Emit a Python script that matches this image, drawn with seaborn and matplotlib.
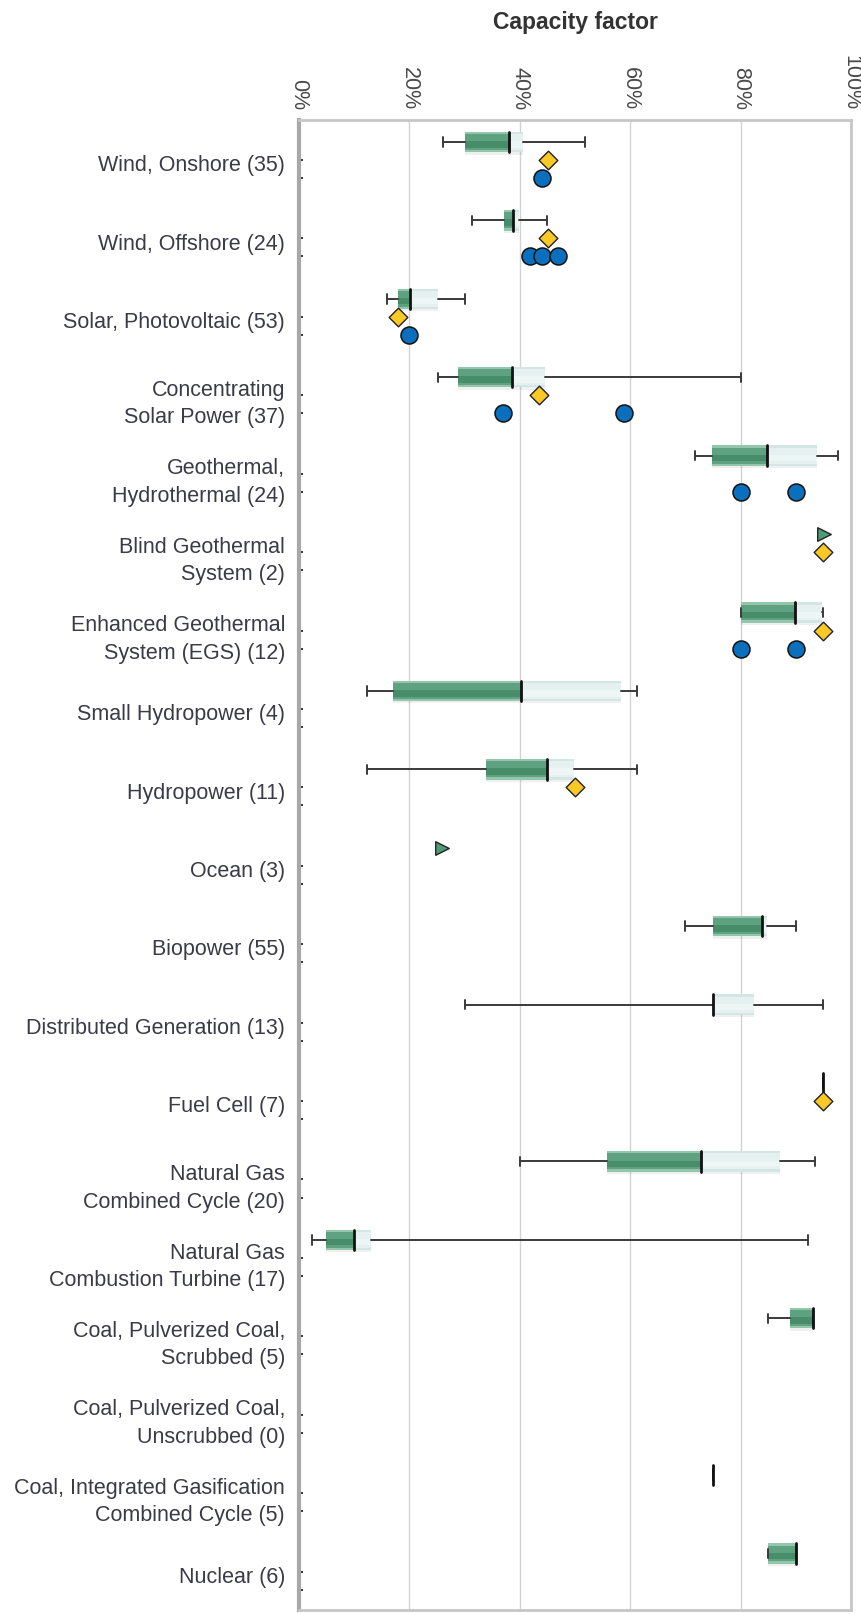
import numpy as np
import pandas as pd
import matplotlib
matplotlib.use("Agg")
import matplotlib.pyplot as plt
import seaborn as sns

nan = np.nan

categories = [
    "Wind, Onshore (35)",
    "Wind, Offshore (24)",
    "Solar, Photovoltaic (53)",
    "Concentrating\nSolar Power (37)",
    "Geothermal,\nHydrothermal (24)",
    "Blind Geothermal\nSystem (2)",
    "Enhanced Geothermal\nSystem (EGS) (12)",
    "Small Hydropower (4)",
    "Hydropower (11)",
    "Ocean (3)",
    "Biopower (55)",
    "Distributed Generation (13)",
    "Fuel Cell (7)",
    "Natural Gas\nCombined Cycle (20)",
    "Natural Gas\nCombustion Turbine (17)",
    "Coal, Pulverized Coal,\nScrubbed (5)",
    "Coal, Pulverized Coal,\nUnscrubbed (0)",
    "Coal, Integrated Gasification\nCombined Cycle (5)",
    "Nuclear (6)",
]

box_min = [26.1, 31.4, 16.0, 25.1, 71.7, nan, 80.0, 12.3, 12.3, nan, 69.9, 30.0, 95.0, 40.1, 2.4, 85.0, nan, 75.0, 85.0]
box_q1 = [30.1, 37.2, 18.0, 28.8, 74.9, nan, 80.0, 17.1, 33.9, nan, 75.0, 75.0, 95.0, 55.8, 4.9, 88.9, nan, 75.0, 85.0]
box_med = [38.0, 38.8, 20.1, 38.6, 84.7, nan, 89.8, 40.2, 44.9, nan, 83.9, 75.0, 95.0, 72.8, 9.9, 93.1, nan, 75.0, 90.0]
box_q3 = [40.6, 39.9, 25.1, 44.6, 93.8, nan, 94.7, 58.3, 49.8, nan, 84.8, 82.5, 95.0, 87.2, 13.0, 93.1, nan, 75.0, 90.0]
box_max = [51.8, 44.9, 30.0, 80.0, 97.6, nan, 95.0, 61.2, 61.2, nan, 90.0, 95.0, 95.0, 93.5, 92.2, 93.1, nan, 75.0, 90.0]

diamond_vals = [45.1, 45.1, 18.0, 43.4, nan, 95.0, 95.0, nan, 50.0, nan, nan, nan, 95.0, nan, nan, nan, nan, nan, nan]

circle_cats = [0, 1, 1, 1, 2, 3, 3, 4, 4, 6, 6]
circle_vals = [44.0, 41.8, 44.1, 47.0, 20.0, 37.0, 58.9, 80.0, 90.0, 80.0, 90.0]

triangle_cats = [5, 9]
triangle_vals = [95.1, 25.9]

x_ticks = [0, 20, 40, 60, 80, 100]
x_ticklabels = ["0%", "20%", "40%", "60%", "80%", "100%"]

# ---------------------------------------------------------------
sns.set_theme(style="white")
plt.rcParams["font.family"] = ["Liberation Sans", "DejaVu Sans"]

W, H = 862, 1614
fig = plt.figure(figsize=(W / 100, H / 100), dpi=100)
ax = fig.add_axes([299 / W, (H - 1610) / H, (851 - 299) / W, (1610 - 120) / H])

n = len(categories)
BOX_OFF = -0.22
DIA_OFF = 0.01
CIR_OFF = 0.24
BH = 0.26

dark_layers = [("#93c6aa", 1.0), ("#5fa281", 0.78), ("#478d6a", 0.32)]
light_layers = [("#d3e6e4", 1.0), ("#e5f1f0", 0.78), ("#eef6f5", 0.32)]

for i in range(n):
    if np.isnan(box_med[i]):
        continue
    yc = i + BOX_OFF
    q1, med, q3 = box_q1[i], box_med[i], box_q3[i]
    lo, hi = box_min[i], box_max[i]
    # shadow
    ax.barh(yc + 0.015, q3 - q1, left=q1, height=BH + 0.03, color="#000000",
            alpha=0.06, lw=0, zorder=2)
    for col, f in dark_layers:
        off = 0.03 if f < 0.5 else 0.0
        ax.barh(yc + off, med - q1, left=q1, height=BH * f, color=col, lw=0, zorder=3)
    for col, f in light_layers:
        off = 0.03 if f < 0.5 else 0.0
        ax.barh(yc + off, q3 - med, left=med, height=BH * f, color=col, lw=0, zorder=3)
    # whiskers
    wc = "#3a3a3a"
    if lo < q1:
        ax.plot([lo, q1], [yc, yc], color=wc, lw=1.4, zorder=4)
    if hi > q3:
        ax.plot([q3, hi], [yc, yc], color=wc, lw=1.4, zorder=4)
    ax.plot([lo, lo], [yc - 0.06, yc + 0.06], color=wc, lw=1.4, zorder=4)
    ax.plot([hi, hi], [yc - 0.06, yc + 0.06], color=wc, lw=1.4, zorder=4)
    # median
    ax.plot([med, med], [yc - BH / 2, yc + BH / 2], color="#111111", lw=2.0, zorder=5)

circ_df = pd.DataFrame({"x": circle_vals, "y": np.array(circle_cats) + CIR_OFF})
dia_df = pd.DataFrame({"x": diamond_vals, "y": np.arange(n) + DIA_OFF}).dropna()
tri_df = pd.DataFrame({"x": triangle_vals, "y": np.array(triangle_cats) + BOX_OFF})

sns.scatterplot(data=circ_df, x="x", y="y", ax=ax, marker="o", s=150,
                color="#0a6fbd", edgecolor="#111111", linewidth=1.1, zorder=6, legend=False)
sns.scatterplot(data=dia_df, x="x", y="y", ax=ax, marker="D", s=90,
                color="#fbc925", edgecolor="#222222", linewidth=1.0, zorder=6, legend=False)
sns.scatterplot(data=tri_df, x="x", y="y", ax=ax, marker=">", s=95,
                color="#4e9b78", edgecolor="#222222", linewidth=1.0, zorder=6, legend=False)

ax.set_xlim(0, 100)
ax.set_ylim(n - 0.5, -0.5)
ax.set_xlabel("")
ax.set_ylabel("")

ax.xaxis.tick_top()
ax.set_xticks(x_ticks)
ax.set_xticklabels(x_ticklabels, rotation=-90, fontsize=15.5, color="#4a4a4a")
ax.tick_params(axis="x", length=0, pad=7)
ax.grid(axis="x", color="#d2d2d2", lw=1.0, zorder=0)
ax.grid(axis="y", visible=False)

ax.set_yticks(np.arange(n) + 0.05)
ax.set_yticklabels(categories, fontsize=15.5, color="#3b3b48", linespacing=1.4)
ax.tick_params(axis="y", which="major", length=0, pad=10)
minor = np.concatenate([np.arange(n) + DIA_OFF, np.arange(n) + CIR_OFF])
ax.set_yticks(minor, minor=True)
ax.tick_params(axis="y", which="minor", length=3, width=1.4, direction="in",
               color="#333333", left=True)

for side, sp in ax.spines.items():
    sp.set_visible(True)
    sp.set_color("#c6c6c6")
    sp.set_linewidth(2)
ax.spines["left"].set_color("#a8a8a8")
ax.spines["left"].set_linewidth(3)

fig.text(575 / W, 1 - 22 / H, "Capacity factor", ha="center", va="center",
         fontsize=16.5, fontweight="bold", color="#333333")

fig.savefig("out.png", dpi=100)
